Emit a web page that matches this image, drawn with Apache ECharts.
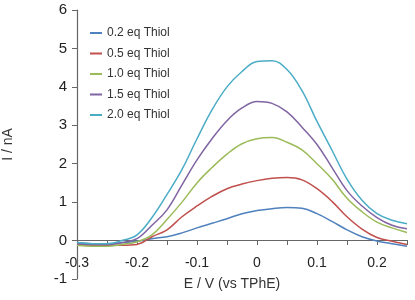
<!DOCTYPE html>
<html>
<head>
<meta charset="utf-8">
<script src="https://cdn.jsdelivr.net/npm/echarts@6/dist/echarts.min.js"></script>
<style>
  html, body { margin: 0; padding: 0; background: #fff; }
  #chart { width: 415px; height: 300px; }
</style>
</head>
<body>
<div id="chart"></div>
<script>
// Potential axis (V vs TPhE)
const potentials = [-0.3, -0.275, -0.25, -0.225, -0.2, -0.175, -0.15, -0.125, -0.1, -0.075, -0.05, -0.025,
  0, 0.025, 0.05, 0.075, 0.1, 0.125, 0.15, 0.175, 0.2, 0.225, 0.25];

// Current (nA) for each thiol equivalent
const thiol02 = [-0.05, -0.08, -0.08, -0.06, -0.02, 0.05, 0.1, 0.2, 0.33, 0.45, 0.57, 0.7,
  0.78, 0.83, 0.86, 0.84, 0.7, 0.5, 0.28, 0.1, -0.01, -0.08, -0.15];
const thiol05 = [-0.1, -0.12, -0.12, -0.12, -0.1, 0.1, 0.28, 0.62, 0.9, 1.15, 1.35, 1.47,
  1.56, 1.62, 1.64, 1.58, 1.35, 1.02, 0.62, 0.3, 0.08, -0.02, -0.1];
const thiol10 = [-0.12, -0.15, -0.15, -0.1, -0.03, 0.15, 0.55, 1.0, 1.5, 1.9, 2.25, 2.52,
  2.65, 2.68, 2.56, 2.36, 2.0, 1.6, 1.1, 0.75, 0.48, 0.33, 0.21];
const thiol15 = [-0.08, -0.1, -0.1, -0.05, 0.05, 0.4, 0.8, 1.45, 2.1, 2.65, 3.12, 3.45,
  3.62, 3.57, 3.35, 2.95, 2.5, 1.9, 1.3, 0.9, 0.6, 0.4, 0.31];
const thiol20 = [-0.05, -0.08, -0.08, 0.0, 0.15, 0.6, 1.2, 1.85, 2.65, 3.4, 4.0, 4.4,
  4.66, 4.68, 4.45, 3.9, 3.1, 2.35, 1.6, 1.05, 0.7, 0.53, 0.44];

const seriesNames = ['0.2 eq Thiol', '0.5 eq Thiol', '1.0 eq Thiol', '1.5 eq Thiol', '2.0 eq Thiol'];
const seriesData = [thiol02, thiol05, thiol10, thiol15, thiol20];
// Excel-like palette
const colors = ['#4F81BD', '#C0504D', '#9BBB59', '#8064A2', '#4BACC6'];

const chart = echarts.init(document.getElementById('chart'));

chart.setOption({
  animation: false,
  color: colors,
  textStyle: { fontFamily: 'Liberation Sans' },
  grid: { left: 77, right: 8, top: 10, bottom: 21, outerBoundsMode: 'none', containLabel: false },
  legend: {
    orient: 'vertical',
    left: 85,
    top: 22,
    icon: 'rect',
    itemWidth: 12,
    itemHeight: 2,
    itemGap: 8.5,
    textStyle: { fontSize: 12, color: '#333', lineHeight: 12 },
    data: seriesNames
  },
  xAxis: {
    type: 'value',
    min: -0.3,
    max: 0.25,
    interval: 0.05,
    // x axis sits on I = 0, which is 39px above the grid bottom
    offset: -39,
    name: 'E / V (vs TPhE)',
    nameLocation: 'middle',
    nameGap: 37,
    nameTextStyle: { fontSize: 14, color: '#333', padding: [0, 20, 0, 0] },
    axisLine: { onZero: false, lineStyle: { color: '#666', width: 1.2 } },
    axisTick: { show: true, length: 5, lineStyle: { color: '#666' } },
    axisLabel: {
      fontSize: 14,
      color: '#222',
      margin: 16,
      formatter: function (v) {
        const k = Math.round(v * 100);
        return k % 10 === 0 ? String(k / 100) : '';
      }
    },
    splitLine: { show: false }
  },
  yAxis: {
    type: 'value',
    min: -1,
    max: 6,
    interval: 1,
    name: 'I / nA',
    nameLocation: 'middle',
    nameGap: 62,
    nameTextStyle: { fontSize: 14, color: '#333' },
    axisLine: { show: true, onZero: false, lineStyle: { color: '#666', width: 1.2 } },
    axisTick: { show: true, length: 5, lineStyle: { color: '#666' } },
    axisLabel: { fontSize: 15, color: '#222', margin: 10 },
    splitLine: { show: false }
  },
  series: seriesNames.map((name, i) => ({
    name: name,
    type: 'line',
    smooth: 0.4,
    symbol: 'none',
    lineStyle: { width: 1.5 },
    data: potentials.map((e, j) => [e, seriesData[i][j]])
  }))
});
</script>
</body>
</html>
